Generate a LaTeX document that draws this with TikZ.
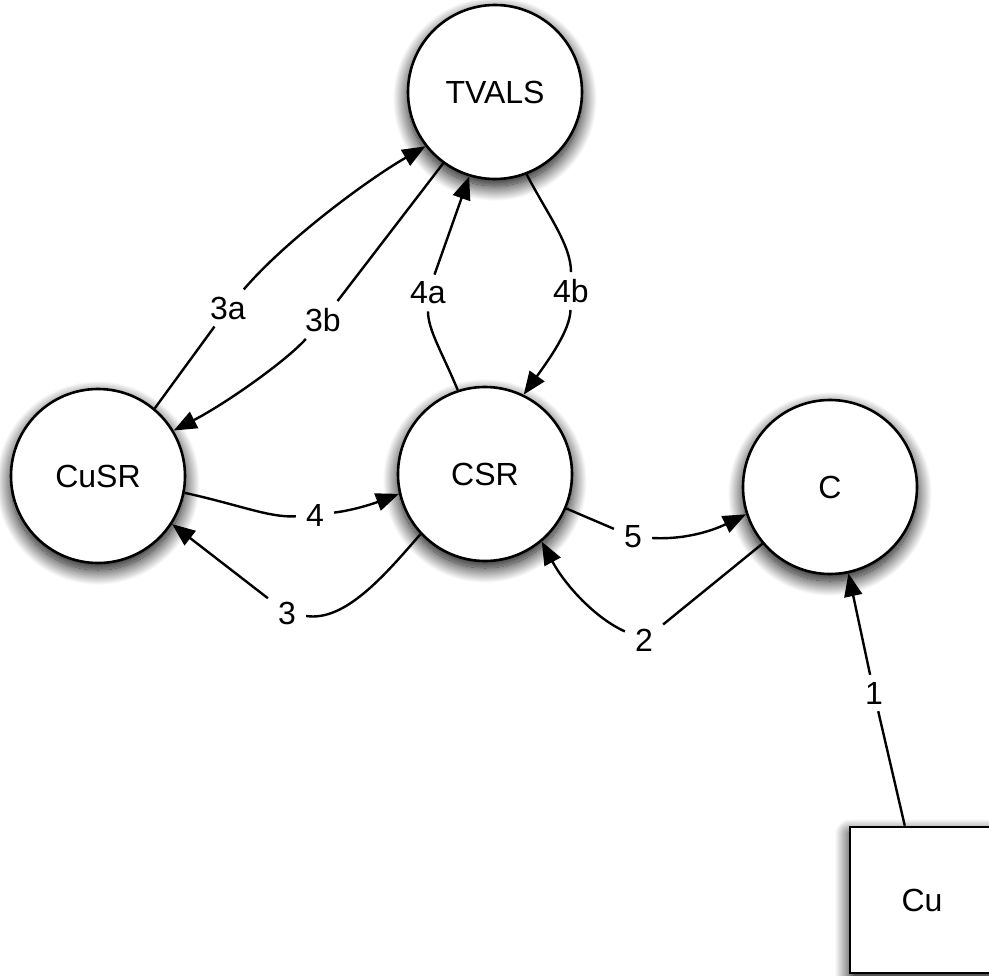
\documentclass[tikz,border=0pt]{standalone}
\usepackage{fontspec}
\setmainfont{Liberation Sans}
\usetikzlibrary{arrows.meta,shadows.blur}
\begin{document}
\begin{tikzpicture}[x=1pt,y=-1pt,
  every node/.style={font=\fontsize{32}{36}\selectfont},
  myshadow/.style={blur shadow={shadow xshift=0pt,shadow yshift=-7pt,shadow blur radius=15pt,shadow opacity=100,shadow blur steps=24}},
  state/.style={circle,draw,line width=2.6pt,fill=white,minimum size=174pt,inner sep=0pt,myshadow},
  box/.style={rectangle,draw,line width=2.6pt,fill=white,minimum width=144pt,minimum height=146pt,myshadow},
  lbl/.style={inner xsep=10pt,inner ysep=7pt},
  conn/.style={line width=2.4pt},
  conarr/.style={conn,-{Triangle[length=23pt,width=18pt]}}
]
\useasboundingbox (0,0) rectangle (989,976);
\node[state] (T) at (495,92) {TVALS};
\node[state] (U) at (98,476) {CuSR};
\node[state] (S) at (485,474) {CSR};
\node[state] (C) at (830,487) {C};
\node[box] (Cu) at (922,900) {Cu};

\node[lbl] (l3a) at (228,308) {3a};
\node[lbl] (l3b) at (323,320) {3b};
\node[lbl] (l4a) at (428,293) {4a};
\node[lbl] (l4b) at (571,291) {4b};
\node[lbl] (l4) at (315,515) {4};
\node[lbl] (l3) at (287,613) {3};
\node[lbl] (l5) at (633,537) {5};
\node[lbl] (l2) at (644,640) {2};
\node[lbl] (l1) at (874,693) {1};

% 3a
\draw[conn] (U.50) -- (l3a);
\draw[conarr] (l3a) .. controls (285,241) and (367,180) .. (T.218);
% 3b
\draw[conn] (T.234) -- (l3b);
\draw[conarr] (l3b) .. controls (285,362) and (225,404) .. (U.31);
% 4a
\draw[conn] (S.108) .. controls (442,352) and (428,330) .. (l4a);
\draw[conarr] (l4a) -- (T.253);
% 4b
\draw[conn] (T.291) .. controls (548,215) and (571,245) .. (l4b);
\draw[conarr] (l4b) .. controls (570,330) and (550,358) .. (S.64);
% 4
\draw[conn] (U.349) .. controls (240,505) and (270,518) .. (l4);
\draw[conarr] (l4) .. controls (355,510) and (375,503) .. (S.193);
% 3
\draw[conn] (S.223) .. controls (385,575) and (345,622) .. (l3);
\draw[conarr] (l3) -- (U.327);
% 5
\draw[conn] (S.337) -- (l5);
\draw[conarr] (l5) .. controls (690,540) and (718,528) .. (C.198);
% 2
\draw[conn] (C.220) -- (l2);
\draw[conarr] (l2) .. controls (595,618) and (565,585) .. (S.310);
% 1
\draw[conn] (Cu) -- (l1);
\draw[conarr] (l1) -- (C);
\end{tikzpicture}
\end{document}
